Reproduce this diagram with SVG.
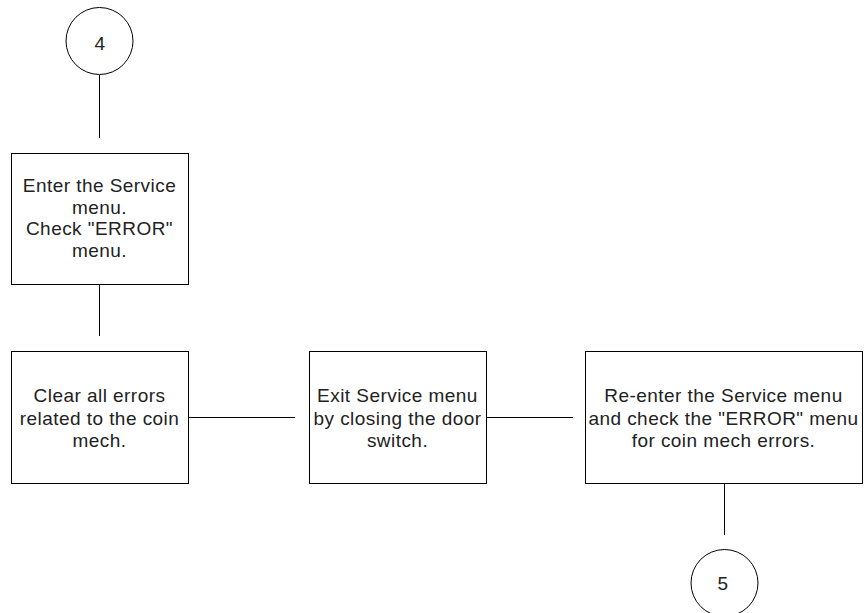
<svg xmlns="http://www.w3.org/2000/svg" width="867" height="613" viewBox="0 0 867 613">
<style>
.box{fill:#fff;stroke:#000;stroke-width:1}
.conn{stroke:#000;stroke-width:1;fill:none}
.t{font-family:"Liberation Sans",Arial,sans-serif;font-size:19px;letter-spacing:0.45px;fill:#222;text-anchor:middle}
</style>
<rect width="867" height="613" fill="#fff"/>
<g id="connectors">
<line class="conn" x1="99.5" y1="75" x2="99.5" y2="138"/>
<line class="conn" x1="99.5" y1="284" x2="99.5" y2="336"/>
<line class="conn" x1="188" y1="417.5" x2="295" y2="417.5"/>
<line class="conn" x1="486" y1="417.5" x2="573" y2="417.5"/>
<line class="conn" x1="724.5" y1="483" x2="724.5" y2="535"/>
</g>
<g id="c4">
<circle class="box" cx="99.5" cy="41" r="33.5"/>
<text class="t" x="100" y="50">4</text>
</g>
<g id="n1">
<rect class="box" x="11.5" y="153.5" width="177" height="131"/>
<text class="t" x="99.5" y="192">Enter the Service</text>
<text class="t" x="99.5" y="213.5">menu.</text>
<text class="t" x="99.5" y="235">Check "ERROR"</text>
<text class="t" x="99.5" y="256.5">menu.</text>
</g>
<g id="n2">
<rect class="box" x="11.5" y="351.5" width="177" height="132"/>
<text class="t" x="99.5" y="402">Clear all errors</text>
<text class="t" x="99.5" y="424.5">related to the coin</text>
<text class="t" x="99.5" y="447">mech.</text>
</g>
<g id="n3">
<rect class="box" x="309.5" y="351.5" width="177" height="132"/>
<text class="t" x="397.5" y="402">Exit Service menu</text>
<text class="t" x="397.5" y="424.5">by closing the door</text>
<text class="t" x="397.5" y="447">switch.</text>
</g>
<g id="n4">
<rect class="box" x="585.5" y="351.5" width="277" height="132"/>
<text class="t" x="723.5" y="402">Re-enter the Service menu</text>
<text class="t" x="723.5" y="424.5">and check the "ERROR" menu</text>
<text class="t" x="723.5" y="447">for coin mech errors.</text>
</g>
<g id="c5">
<circle class="box" cx="724.5" cy="583" r="33.5"/>
<text class="t" x="723" y="590">5</text>
</g>
</svg>
